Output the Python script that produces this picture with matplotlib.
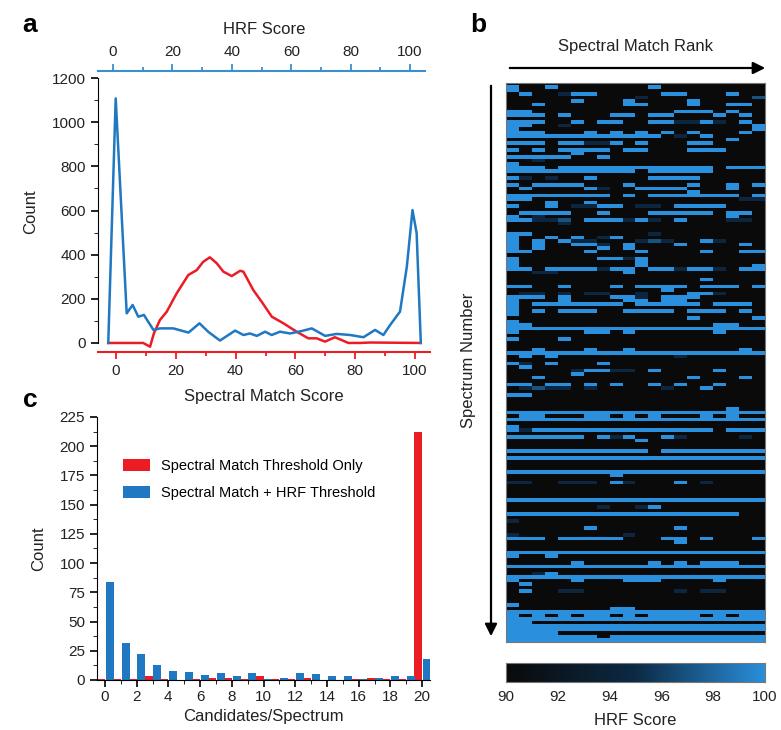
import numpy as np
import matplotlib
matplotlib.use('Agg')
import matplotlib.pyplot as plt
from matplotlib.colors import LinearSegmentedColormap

plt.rcParams['font.family'] = ['Liberation Sans', 'DejaVu Sans']

# panel a: score distributions
hrf_x = [-1.6, 0.9, 4.6, 6.6, 8.5, 10.4, 13.6, 15.8, 20.3, 25.4, 29.1, 32.1, 36.0,
         41.1, 43.9, 46.1, 48.4, 51.2, 53.4, 56.2, 59.6, 63.5, 66.9, 71.4, 75.3, 79.8,
         84.3, 88.2, 91.0, 93.3, 96.6, 98.9, 100.8, 102.2, 103.6]
hrf_count = [0, 1108, 134, 172, 119, 127, 59, 66, 66, 47, 89, 50, 11,
             56, 36, 43, 32, 51, 36, 51, 43, 54, 66, 32, 41, 36,
             26, 59, 36, 82, 142, 346, 602, 497, 0]
sm_x = [-2.6, 9.1, 11.4, 12.7, 14.7, 17.0, 20.3, 24.2, 27.0, 29.2, 31.4, 33.7, 35.9,
        38.7, 41.5, 42.6, 45.9, 48.7, 52.1, 56.0, 60.4, 64.3, 67.1, 69.9, 73.2, 77.7,
        81.6, 85.0, 101.7]
sm_count = [0, 0, -17, 44, 104, 142, 225, 308, 330, 368, 388, 361, 323,
            303, 327, 323, 240, 187, 119, 89, 51, 21, 21, 6, 26, 0,
            0, 2, 0]

# panel c: candidates per spectrum
candidates = list(range(21))
sm_only = [1, 1, 1, 3, 1, 0, 1, 2, 2, 1, 3, 1, 1, 2, 0, 0, 1, 2, 1, 1, 212]
sm_hrf = [84, 32, 22, 13, 8, 7, 4, 6, 3, 6, 1, 2, 6, 5, 3, 3, 1, 2, 3, 3, 18]

# panel b: HRF score per spectrum (rows) and spectral match rank (columns)
# '.' <=90, 'd' ~94.5, 'm' ~97, '#' 100
levels = {'.': 90.0, 'd': 94.5, 'm': 97.0, '#': 100.0}
hrf_rows = [
    "....................", "#..#.......#........", "#...................", ".#..d##.....##...#..",
    "..........d........m", ".....#...#....#.....", "..#......##...#..##.", "....................",
    "##...........###.#..", "###.#...##.##...#.#.", "....................", "###..#.##..##dd#d.#.",
    "##..d..............#", "#..................#", "###...#.#.#.#.#...#.", "############.d.#....",
    ".................#..", "###.##dd#.#...##....", "....................", "#.#.####.##...###...",
    ".....#..............", "#####..#............", "..d.................", "#...................",
    "###.############.###", "##########.#####....", "....................", "#d.d..#....####.....",
    "....................", "#.####...#....#..#.#", ".#....#d..####...#..", "..............#.....",
    "########.#.#######.#", "##................dd", "...#..#.............", "#..#.dd##.dd.####...",
    "....................", ".####..#...#####.##.", "#.d..............#..", "##ddm.###d#d.#...dd.",
    "....d...............", "....................", "....................", "##.........d........",
    "#..#.#.d#...........", "#.#.#dd...dmd..#d...", "#.#..##d.#...#....#.", "#.#....#.#..........",
    "##....#...#....#..##", "....................", "#......##d#.........", "#.........#.........",
    "#.........#........#", "##.####d##.##d##d.##", "..dd.....#..........", "....................",
    "...............#....", "....................", "##..#...#.####.###.#", "............#.......",
    ".dd.d.dd..d...##d...", "###.#...##d.###.....", "#...#....##.##......", "#.#######.#####.###.",
    "#...................", "#.#.###..####.###.#.", "#...................", "..............#....#",
    "#...................", "##..............##..", "####################", "#.....##.#......#...",
    "....................", "#...#...............", "....................", "....................",
    "..#...#..#........#.", "####################", ".#.#.........d......", "....................",
    "#d.#...#............", ".#..................", ".....d##dd.#....#...", ".....#..............",
    "..#...........#...#.", "....................", "##.##.#.#..#.#..#...", ".dmdd.d.....d..#....",
    "....................", "##..................", "....................", "....................",
    "....................", ".................#..", "####################", ".##...##.#.#...#.#..",
    "####################", "....................", "#...................", "#d##############.###",
    "....................", "######.#d#..#d....d.", "..........#.........", "....................",
    "....................", "###########.########", "....................", "####################",
    "....................", "....................", "....................", "####################",
    "........#...........", "....................", "dd..ddd.#d...#.d....", "....................",
    "....................", "....................", "....................", "####################",
    "....................", ".......d..d#........", "....................", "##################..",
    "....................", "d...................", "....................", "......#......#......",
    "....................", "d........d..........", "###.#####...##.#...#", ".............#......",
    "....................", "....................", "####################", "#..#................",
    "....................", ".....#.....#.#.###..", "####################", "....................",
    "..d#................", "####################", "#....#...###....#...", ".#..................",
    "....................", ".#..dd.......d.dd...", "....................", "....................",
    "....................", "#...................", "........##..........", "####################",
    "#.#.#.##.#.####.#.##", "####################", "##..................", "####################",
    "####################", "####................", "#######.############", "####################",
]
cbar_ticks = [90, 92, 94, 96, 98, 100]

RED = '#ec1c24'
BLUE = '#1f78c1'
TXT = '#222222'

fig = plt.figure(figsize=(7.81, 7.30), dpi=100)

# ---- panel a
ax = fig.add_axes([0.1255, 0.5178, 0.4251, 0.3849])
ax.plot(sm_x, sm_count, color=RED, lw=1.8)
ax.set_xlim(-6, 105)
ax.set_ylim(-41, 1232)
ax.set_yticks(range(0, 1201, 200))
ax.set_yticks(range(0, 1201, 100), minor=True)
ax.set_xticks(range(0, 101, 20))
ax.set_xticks(range(0, 101, 10), minor=True)
ax.spines['left'].set_bounds(0, 1200)
ax.spines['right'].set_visible(False)
ax.spines['top'].set_visible(False)
ax.spines['bottom'].set_color(RED)
ax.spines['bottom'].set_linewidth(1.5)
ax.tick_params(axis='x', colors=RED, labelcolor=TXT, labelsize=11, length=5, width=1.3)
ax.tick_params(axis='x', which='minor', colors=RED, length=3, width=1.3)
ax.tick_params(axis='y', labelsize=11, length=5, width=1.2, labelcolor=TXT)
ax.tick_params(axis='y', which='minor', length=3)
ax.set_ylabel('Count', fontsize=12, color=TXT, labelpad=10)
ax.set_xlabel('Spectral Match Score', fontsize=12, color=TXT, labelpad=8)

axt = ax.twiny()
axt.plot(hrf_x, hrf_count, color=BLUE, lw=1.8)
axt.set_xlim(-5.05, 106.7)
axt.set_xticks(range(0, 101, 20))
axt.set_xticks(range(0, 101, 10), minor=True)
for s in ['left', 'right', 'bottom']:
    axt.spines[s].set_visible(False)
axt.spines['top'].set_color('#3a8fd0')
axt.spines['top'].set_linewidth(1.5)
axt.spines['top'].set_bounds(-5.05, 105)
axt.tick_params(axis='x', colors='#3a8fd0', labelcolor=TXT, labelsize=11, length=5, width=1.3)
axt.tick_params(axis='x', which='minor', colors='#3a8fd0', length=3, width=1.3)
axt.set_xlabel('HRF Score', fontsize=12, color=TXT, labelpad=8)

# ---- panel c
axc = fig.add_axes([0.1242, 0.0685, 0.4264, 0.3603])
xs = np.array(candidates)
axc.bar(xs - 0.25, sm_only, width=0.5, color=RED, label='Spectral Match Threshold Only')
axc.bar(xs + 0.3, sm_hrf, width=0.5, color=BLUE, label='Spectral Match + HRF Threshold')
axc.set_xlim(-0.5, 20.5)
axc.set_ylim(0, 225)
axc.set_yticks(range(0, 226, 25))
axc.set_yticks(np.arange(0, 226, 12.5), minor=True)
axc.set_xticks(range(0, 21, 2))
axc.set_xticks(range(0, 21, 1), minor=True)
axc.spines['right'].set_visible(False)
axc.spines['top'].set_visible(False)
axc.tick_params(labelsize=11, length=5, width=1.2, labelcolor=TXT)
axc.tick_params(axis='x', pad=2)
axc.tick_params(which='minor', length=3)
axc.set_ylabel('Count', fontsize=12, color=TXT, labelpad=10)
axc.set_xlabel('Candidates/Spectrum', fontsize=12, color=TXT, labelpad=4)
axc.legend(loc='upper left', bbox_to_anchor=(0.04, 0.89), frameon=False, fontsize=10.5,
           handlelength=1.8, handleheight=0.9, labelspacing=0.9)

# ---- panel b
data = np.array([[levels[ch] for ch in row] for row in hrf_rows])
cmap = LinearSegmentedColormap.from_list('hrf', ['#0a0a0a', '#0c2a44', '#2a8fdc'])
axb = fig.add_axes([0.6479, 0.1205, 0.3316, 0.7658])
axb.imshow(data, aspect='auto', interpolation='nearest', cmap=cmap, vmin=90, vmax=100)
axb.set_xticks([])
axb.set_yticks([])
for s in axb.spines.values():
    s.set_color('#777777')
    s.set_linewidth(0.8)

axcb = fig.add_axes([0.6479, 0.0658, 0.3316, 0.026])
grad = np.linspace(90, 100, 256).reshape(1, -1)
axcb.imshow(grad, aspect='auto', cmap=cmap, vmin=90, vmax=100, extent=[90, 100, 0, 1])
axcb.set_yticks([])
axcb.set_xticks(cbar_ticks)
axcb.tick_params(length=0, labelsize=11, labelcolor=TXT, pad=6)
for s in axcb.spines.values():
    s.set_color('#777777')
    s.set_linewidth(0.8)
axcb.set_xlabel('HRF Score', fontsize=12, color=TXT, labelpad=6)

# arrows and labels for panel b
fig.patches.append(matplotlib.patches.FancyArrowPatch(
    (507 / 781, 1 - 68 / 730), (768 / 781, 1 - 68 / 730), transform=fig.transFigure,
    arrowstyle='-|>', mutation_scale=18, lw=1.6, color='black'))
fig.patches.append(matplotlib.patches.FancyArrowPatch(
    (491 / 781, 1 - 83 / 730), (491 / 781, 1 - 639 / 730), transform=fig.transFigure,
    arrowstyle='-|>', mutation_scale=18, lw=1.6, color='black'))
fig.text(636 / 781, 1 - 46 / 730, 'Spectral Match Rank', ha='center', va='center',
         fontsize=12, color=TXT)
fig.text(468 / 781, 1 - 360 / 730, 'Spectrum Number', ha='center', va='center',
         rotation=90, fontsize=12, color=TXT)

# panel letters
fig.text(30 / 781, 1 - 25 / 730, 'a', fontsize=19, fontweight='bold', ha='center', va='center')
fig.text(478 / 781, 1 - 25 / 730, 'b', fontsize=19, fontweight='bold', ha='center', va='center')
fig.text(30 / 781, 1 - 400 / 730, 'c', fontsize=19, fontweight='bold', ha='center', va='center')

fig.savefig('out.png', dpi=100)
